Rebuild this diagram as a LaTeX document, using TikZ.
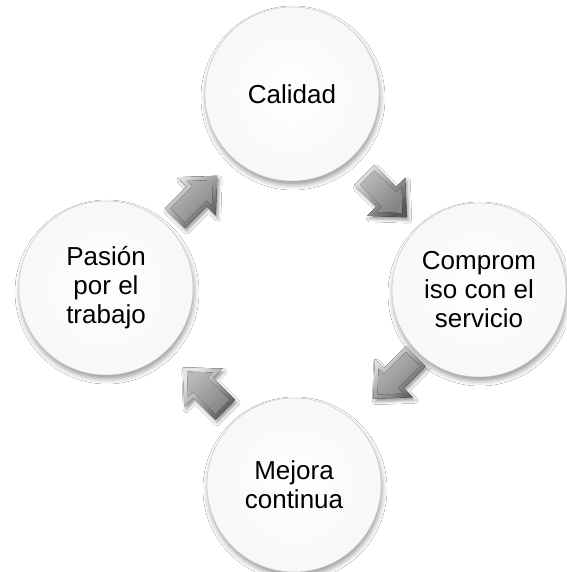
\documentclass[tikz,border=0pt]{standalone}
\usepackage{fontspec}
\setmainfont{Liberation Sans}
\usetikzlibrary{calc,shadows.blur}

% mostly white disc that darkens only close to its rim
\pgfdeclareradialshading{discshade}{\pgfpoint{0bp}{0bp}}{%
  color(0bp)=(white);
  color(26bp)=(black!3);
  color(40bp)=(black!7);
  color(47bp)=(black!13);
  color(50bp)=(black!24);
  color(60bp)=(black!24)}

\tikzset{
  % soft white disc with a shadow underneath
  stage/.style={circle, minimum size=174pt, inner sep=0pt, align=center,
    font=\fontsize{26}{29}\selectfont,
    draw=black!20, line width=0.5pt,
    shading=discshade,
    blur shadow={shadow xshift=1pt, shadow yshift=-4pt,
      shadow blur radius=5pt, shadow opacity=40}},
  % bevelled block arrow pointing along +x, centred on the origin
  pics/flow/.style={code={
    \fill[top color=black!10, bottom color=black!65, shading angle=45,
      blur shadow={shadow xshift=2pt, shadow yshift=-3pt,
        shadow blur radius=3pt, shadow opacity=40}]
      (30,0) -- (1,27) -- (1,14) -- (-30,14) -- (-30,-14)
      -- (1,-14) -- (1,-27) -- cycle;
    \fill[top color=black!28, bottom color=black!48, shading angle=45]
      (24,0) -- (5,17.6) -- (5,10) -- (-26,10) -- (-26,-10)
      -- (5,-10) -- (5,-17.6) -- cycle;
  }}
}

\begin{document}
\begin{tikzpicture}[x=1pt, y=1pt]
  \useasboundingbox[fill=white] (0,0) rectangle (566,572);

  \node[stage] (quality) at (292,478) {Calidad};
  \node[stage] (service) at (479,282) {Comprom\\iso con el\\servicio};
  \node[stage] (improve) at (294,87)  {Mejora\\continua};
  \node[stage] (passion) at (106,284) {Pasión\\por el\\trabajo};

  % arrows between neighbouring discs, running clockwise
  \pic[rotate=-45] at ($(quality)!0.5!(service)+(0,-4)$) {flow};
  \pic[rotate=-135] at ($(service)!0.5!(improve)+(8,10)$) {flow};
  \pic[rotate=135] at ($(improve)!0.5!(passion)+(4,-2)$) {flow};
  \pic[rotate=45] at ($(passion)!0.5!(quality)+(-3,-6)$) {flow};
\end{tikzpicture}
\end{document}
